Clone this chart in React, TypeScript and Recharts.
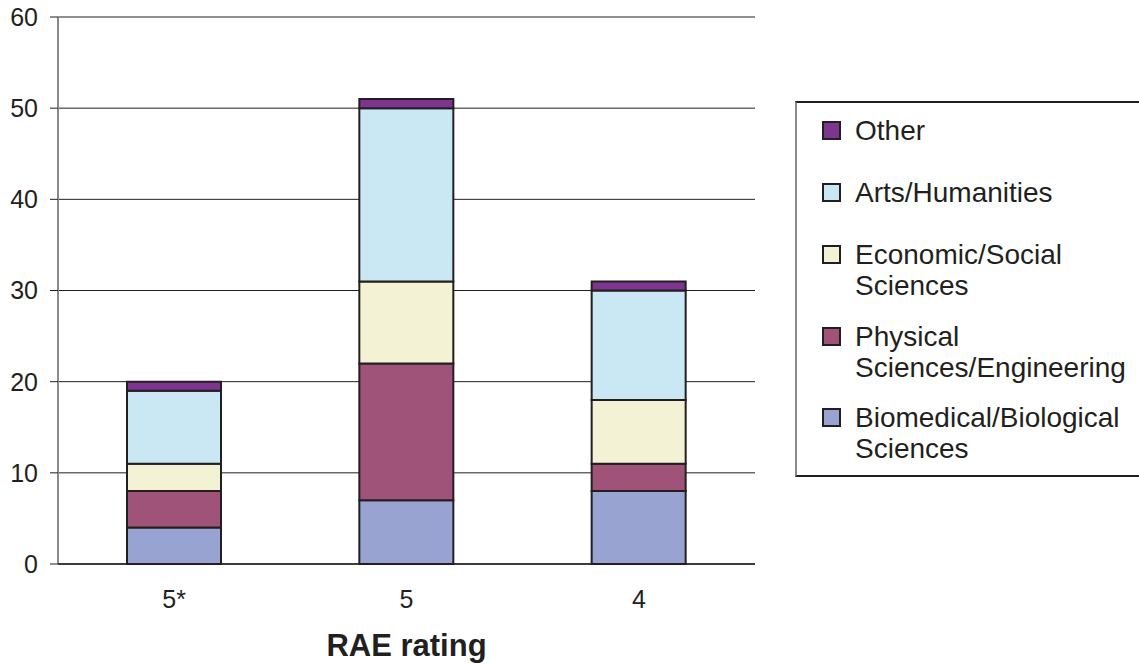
import React from 'react';
import { BarChart, Bar, XAxis, YAxis, CartesianGrid, Legend, Label } from 'recharts';

const categories = ['5*', '5', '4'];
const biomedical = [4, 7, 8];
const physical = [4, 15, 3];
const economic = [3, 9, 7];
const arts = [8, 19, 12];
const other = [1, 1, 1];
const yTicks = [0, 10, 20, 30, 40, 50, 60];
const edgeTicks = [0, 1, 2, 3];

const series = [
  { key: 'bio', name: 'Biomedical/Biological Sciences', color: '#98A3D2', values: biomedical },
  { key: 'phys', name: 'Physical Sciences/Engineering', color: '#A05378', values: physical },
  { key: 'econ', name: 'Economic/Social Sciences', color: '#F3F2D4', values: economic },
  { key: 'arts', name: 'Arts/Humanities', color: '#C9E8F3', values: arts },
  { key: 'other', name: 'Other', color: '#7E3590', values: other },
];

const data = categories.map((c, i) => {
  const row: Record<string, any> = { rating: c };
  series.forEach((s) => {
    row[s.key] = s.values[i];
  });
  return row;
});

const FONT = '"Liberation Sans", Arial, Helvetica, sans-serif';
const DARK = '#231F20';

const legendTops = [116, 178, 240, 322, 403];

const LegendBox = () => {
  const items = [...series].reverse();
  return (
    <div
      style={{
        position: 'relative',
        width: 344,
        height: 376,
        boxSizing: 'border-box',
        borderTop: `2px solid ${DARK}`,
        borderBottom: `2px solid ${DARK}`,
        borderLeft: '2px solid #8a8a8a',
        background: '#fff',
        fontFamily: FONT,
        color: DARK,
      }}
    >
      {items.map((s, i) => (
        <div
          key={s.key}
          style={{ position: 'absolute', left: 25, top: legendTops[i] - 101 - 2, display: 'flex', alignItems: 'flex-start' }}
        >
          <div
            style={{
              width: 19,
              height: 19,
              boxSizing: 'border-box',
              border: `2px solid ${DARK}`,
              background: s.color,
              marginTop: 5,
              flex: 'none',
            }}
          />
          <div style={{ marginLeft: 14, width: 284, fontSize: 28, lineHeight: '30.5px' }}>{s.name}</div>
        </div>
      ))}
    </div>
  );
};

export default function App() {
  return (
    <div style={{ position: 'absolute', left: 0, top: 0, width: 1139, height: 666, background: '#fff' }}>
      <BarChart
        width={1139}
        height={666}
        data={data}
        margin={{ top: 17, right: 384, bottom: 0, left: 0 }}
        barSize={94}
      >
        <CartesianGrid horizontal vertical={false} stroke={DARK} strokeWidth={1} />
        <YAxis
          type="number"
          domain={[0, 60]}
          ticks={yTicks}
          width={58}
          tickSize={8}
          tickMargin={12}
          axisLine={{ stroke: '#8a8a8a', strokeWidth: 2 }}
          tickLine={{ stroke: DARK }}
          tick={{ fontSize: 25, fill: DARK, fontFamily: FONT }}
          interval={0}
        />
        <XAxis
          xAxisId="aEdge"
          type="number"
          domain={[0, 3]}
          ticks={edgeTicks}
          allowDataOverflow
          height={1}
          tick={false}
          tickSize={8}
          axisLine={{ stroke: DARK, strokeWidth: 1.5 }}
          tickLine={{ stroke: '#666' }}
        />
        <XAxis
          xAxisId="bCat"
          dataKey="rating"
          height={101}
          axisLine={false}
          tickLine={false}
          tickSize={0}
          tickMargin={25}
          tick={{ fontSize: 25, fill: DARK, fontFamily: FONT }}
        >
          <Label
            value="RAE rating"
            position="insideBottom"
            offset={10}
            style={{ fontSize: 31, fontWeight: 'bold', fill: DARK, fontFamily: FONT }}
          />
        </XAxis>
        <Legend
          layout="horizontal"
          verticalAlign="middle"
          align="center"
          wrapperStyle={{ left: 795, top: 101, width: 344, height: 376 }}
          content={() => <LegendBox />}
        />
        {series.map((s) => (
          <Bar
            key={s.key}
            xAxisId="bCat"
            dataKey={s.key}
            name={s.name}
            stackId="a"
            fill={s.color}
            stroke={DARK}
            strokeWidth={2}
            isAnimationActive={false}
          />
        ))}
      </BarChart>
    </div>
  );
}
